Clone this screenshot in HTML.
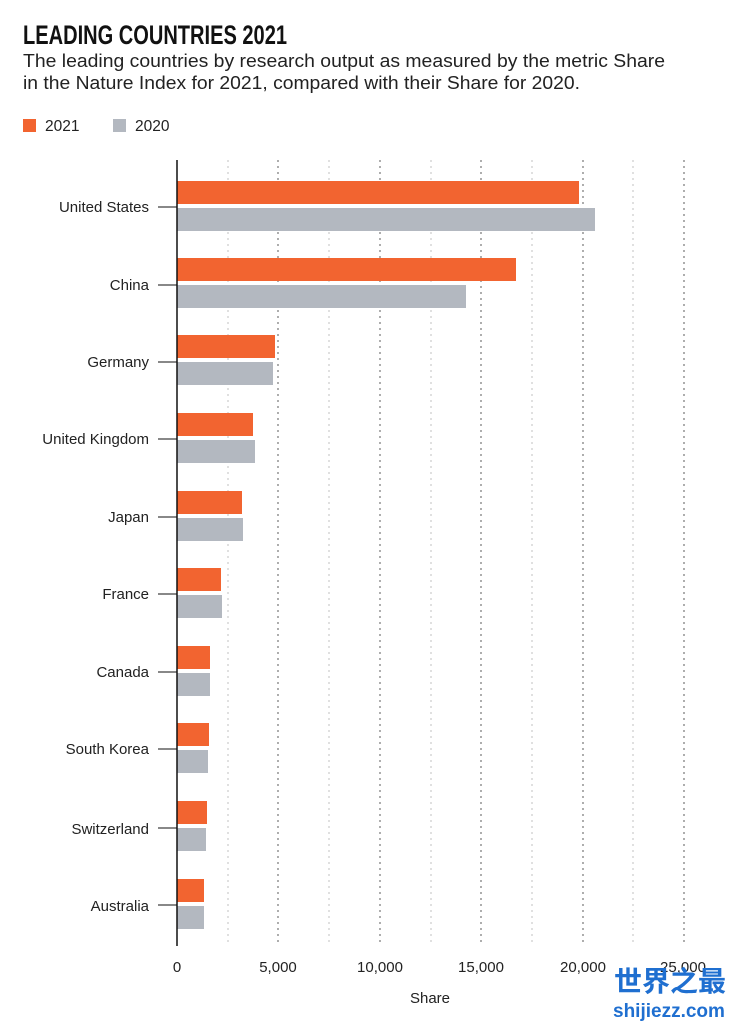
<!DOCTYPE html>
<html><head><meta charset="utf-8"><style>
body{margin:0;background:#fff;width:734px;height:1024px;overflow:hidden;font-family:"Liberation Sans",sans-serif}
</style></head><body>
<svg width="734" height="1024" xmlns="http://www.w3.org/2000/svg" font-family="Liberation Sans, sans-serif">
<text x="23" y="44" font-size="27" font-weight="bold" fill="#111" textLength="264" lengthAdjust="spacingAndGlyphs">LEADING COUNTRIES 2021</text>
<text x="23" y="67" font-size="18" fill="#222" textLength="642" lengthAdjust="spacingAndGlyphs">The leading countries by research output as measured by the metric Share</text>
<text x="23" y="89" font-size="18" fill="#222" textLength="557" lengthAdjust="spacingAndGlyphs">in the Nature Index for 2021, compared with their Share for 2020.</text>
<rect x="23" y="119" width="13" height="13" fill="#f26430"/>
<text x="45" y="131" font-size="15.5" fill="#222">2021</text>
<rect x="113" y="119" width="13" height="13" fill="#b3b8c0"/>
<text x="135" y="131" font-size="15.5" fill="#222">2020</text>
<g stroke-dasharray="2,4" stroke-width="1.2">
<line x1="228" y1="160" x2="228" y2="945" stroke="#ccc"/>
<line x1="278" y1="160" x2="278" y2="945" stroke="#777"/>
<line x1="329" y1="160" x2="329" y2="945" stroke="#ccc"/>
<line x1="380" y1="160" x2="380" y2="945" stroke="#777"/>
<line x1="431" y1="160" x2="431" y2="945" stroke="#ccc"/>
<line x1="481" y1="160" x2="481" y2="945" stroke="#777"/>
<line x1="532" y1="160" x2="532" y2="945" stroke="#ccc"/>
<line x1="583" y1="160" x2="583" y2="945" stroke="#777"/>
<line x1="633" y1="160" x2="633" y2="945" stroke="#ccc"/>
<line x1="684" y1="160" x2="684" y2="945" stroke="#777"/>
</g>
<g fill="#f26430">
<rect x="177" y="181" width="402" height="23"/>
<rect x="177" y="258" width="339" height="23"/>
<rect x="177" y="335" width="98" height="23"/>
<rect x="177" y="413" width="76" height="23"/>
<rect x="177" y="491" width="65" height="23"/>
<rect x="177" y="568" width="44" height="23"/>
<rect x="177" y="646" width="33" height="23"/>
<rect x="177" y="723" width="32" height="23"/>
<rect x="177" y="801" width="30" height="23"/>
<rect x="177" y="879" width="27" height="23"/>
</g>
<g fill="#b3b8c0">
<rect x="177" y="208" width="418" height="23"/>
<rect x="177" y="285" width="289" height="23"/>
<rect x="177" y="362" width="96" height="23"/>
<rect x="177" y="440" width="78" height="23"/>
<rect x="177" y="518" width="66" height="23"/>
<rect x="177" y="595" width="45" height="23"/>
<rect x="177" y="673" width="33" height="23"/>
<rect x="177" y="750" width="31" height="23"/>
<rect x="177" y="828" width="29" height="23"/>
<rect x="177" y="906" width="27" height="23"/>
</g>
<line x1="177" y1="160" x2="177" y2="946" stroke="#111" stroke-width="1.5"/>
<g stroke="#111" stroke-width="1">
<line x1="158" y1="207" x2="177" y2="207"/><line x1="158" y1="285" x2="177" y2="285"/>
<line x1="158" y1="362" x2="177" y2="362"/><line x1="158" y1="439" x2="177" y2="439"/>
<line x1="158" y1="517" x2="177" y2="517"/><line x1="158" y1="594" x2="177" y2="594"/>
<line x1="158" y1="672" x2="177" y2="672"/><line x1="158" y1="749" x2="177" y2="749"/>
<line x1="158" y1="828" x2="177" y2="828"/><line x1="158" y1="905" x2="177" y2="905"/>
</g>
<g font-size="15" fill="#222" text-anchor="end">
<text x="149" y="212">United States</text>
<text x="149" y="290">China</text>
<text x="149" y="367">Germany</text>
<text x="149" y="444">United Kingdom</text>
<text x="149" y="522">Japan</text>
<text x="149" y="599">France</text>
<text x="149" y="677">Canada</text>
<text x="149" y="754">South Korea</text>
<text x="149" y="834">Switzerland</text>
<text x="149" y="911">Australia</text>
</g>
<g font-size="15" fill="#222" text-anchor="middle">
<text x="177" y="972">0</text>
<text x="278" y="972">5,000</text>
<text x="380" y="972">10,000</text>
<text x="481" y="972">15,000</text>
<text x="583" y="972">20,000</text>
<text x="683" y="972">25,000</text>
<text x="430" y="1003">Share</text>
</g>
<text x="614" y="991" font-size="28" font-weight="bold" fill="#1f6fd0" font-family="Noto Sans CJK SC, sans-serif">世界之最</text>
<text x="613" y="1017" font-size="19" font-weight="bold" fill="#1f6fd0">shijiezz.com</text>
</svg>
</body></html>
